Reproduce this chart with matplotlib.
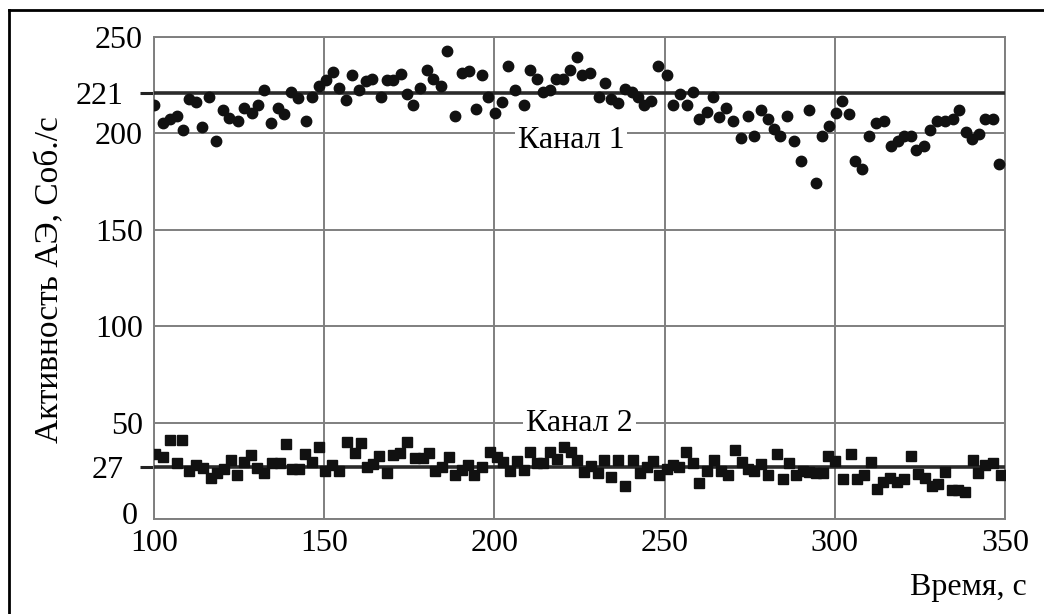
import matplotlib
matplotlib.use("Agg")
import matplotlib.pyplot as plt
from matplotlib.lines import Line2D
from matplotlib.transforms import ScaledTranslation

# Данные: время (с) и активность АЭ (Соб./с)
t1 = [100, 102.5, 104.7, 106.7, 108.4, 110.4, 112.3, 114.2, 116.2, 118.2,
      120.2, 122.1, 124.6, 126.5, 128.7, 130.6, 132.4, 134.4, 136.3, 138.3,
      140.2, 142.2, 144.6, 146.5, 148.5, 150.4, 152.5, 154.4, 156.3, 158.3,
      160.2, 162.2, 164.1, 166.6, 168.4, 170.3, 172.5, 174.2, 176.2, 178.1,
      180.1, 182.1, 184.2, 186, 188.4, 190.4, 192.5, 194.5, 196.3, 198.2,
      200.2, 202.1, 204.1, 206.1, 208.7, 210.5, 212.4, 214.4, 216.3, 218.1,
      220.2, 222.2, 224.2, 225.8, 228.1, 230.7, 232.5, 234.3, 236.4, 238.4,
      240.3, 242.3, 244.0, 246, 248, 250.6, 252.6, 254.5, 256.5, 258.4,
      260.2, 262.4, 264.3, 266.0, 268, 270, 272.4, 274.6, 276.3, 278.3,
      280.3, 282.1, 283.9, 286, 288, 290, 292.5, 294.4, 296.3, 298.3,
      300.3, 302.2, 304.2, 305.9, 308.1, 310, 312, 314.5, 316.4, 318.6,
      320.4, 322.3, 324, 326.3, 328, 330.1, 332.4, 334.6, 336.6, 338.5,
      340.4, 342.5, 344.1, 346.4, 348.2]
kanal1 = [214.6, 205.3, 207.7, 208.8, 201.9, 217.7, 216.5, 203.1, 219.1, 195.9,
          212, 208.2, 206.5, 213.4, 210.8, 214.8, 222.5, 205.3, 213.4, 210,
          221.5, 218.6, 206.5, 218.9, 224.6, 227.7, 231.8, 223.7, 217.4, 230.3,
          222.5, 227.2, 228.4, 218.9, 227.7, 227.7, 230.6, 220.6, 214.6, 223.7,
          232.8, 228, 224.4, 242.6, 208.8, 231.4, 232.3, 212.9, 230.3, 219.1,
          210.8, 216.3, 234.9, 222.5, 214.6, 232.8, 228, 221.5, 222.5, 228,
          228, 232.8, 239.5, 230.1, 231.4, 219.1, 225.9, 217.7, 215.6, 222.8,
          221.5, 219.1, 214.6, 216.9, 235.2, 230.1, 214.6, 220.3, 214.6, 221.5,
          207.4, 211.2, 219.1, 208.5, 213.4, 206.5, 197.4, 208.8, 198.5, 212.2,
          207.7, 202.2, 198.5, 208.8, 196.2, 185.9, 212.2, 174.4, 198.5, 204,
          210.8, 216.9, 210, 185.9, 181.6, 198.5, 205.3, 206.5, 193.7, 196.2,
          198.8, 198.5, 191.6, 193.7, 201.9, 206.5, 206.5, 207.4, 212.2, 200.9,
          197.1, 199.6, 207.4, 207.4, 184.3]

t2 = [100.3, 102.5, 104.7, 106.7, 108.1, 110.4, 112.3, 114.5, 116.7, 118.6,
      120.6, 122.5, 124.5, 126.4, 128.4, 130.3, 132.3, 134.6, 137, 138.7,
      140.4, 142.7, 144.4, 146.5, 148.5, 150.2, 152.2, 154.4, 156.8, 159,
      160.7, 162.5, 164.4, 166.2, 168.4, 170.3, 172.3, 174.2, 176.7, 178.9,
      180.9, 182.5, 184.5, 186.8, 188.4, 190.4, 192.3, 194.1, 196.3, 198.7,
      200.7, 202.6, 204.6, 206.6, 208.7, 210.5, 212.4, 214.4, 216.3, 218.5,
      220.4, 222.4, 224.4, 226.3, 228.3, 230.5, 232.3, 234.2, 236.4, 238.4,
      240.8, 242.8, 244.7, 246.7, 248.4, 250.6, 252.6, 254.3, 256.3, 258.3,
      260.2, 262.4, 264.5, 266.6, 268.7, 270.7, 272.6, 274.4, 276.3, 278.3,
      280.4, 282.9, 284.9, 286.6, 288.6, 290.6, 292.5, 294.5, 296.4, 298.1,
      300.1, 302.3, 304.8, 306.6, 308.6, 310.5, 312.5, 314.2, 316.2, 318.2,
      320.3, 322.3, 324.5, 326.5, 328.5, 330.4, 332.4, 334.3, 336.3, 338.2,
      340.5, 342.2, 344.1, 346.6, 348.8]
kanal2 = [33.5, 32.1, 41.1, 29, 41.1, 24.9, 28.2, 26.5, 21.5, 23.6,
          26.1, 30.8, 22.7, 29.5, 33, 26.5, 23.9, 29, 29, 39,
          26.1, 26.1, 33.5, 29.5, 37.3, 24.9, 28.2, 24.9, 39.8, 34.2,
          39.3, 27, 28.4, 32.5, 23.9, 33, 34.2, 39.8, 31.8, 31.8,
          34.2, 24.9, 27, 32.1, 22.7, 25.6, 27.8, 22.7, 27, 34.7,
          32.1, 29.5, 24.9, 30.1, 25.3, 34.7, 29, 29, 34.7, 31.3,
          37.6, 34.7, 30.8, 24.4, 27.3, 23.9, 30.8, 21.8, 30.8, 17,
          30.8, 23.6, 27, 30.1, 22.7, 26.1, 28.2, 27, 34.7, 29,
          18.7, 24.9, 30.8, 24.9, 22.7, 35.6, 29.5, 26.1, 24.9, 28.4,
          22.7, 33.5, 20.5, 29, 22.7, 24.9, 24.4, 23.9, 23.9, 32.5,
          30.1, 20.5, 33.5, 20.5, 22.7, 29.5, 15.8, 19.2, 21.5, 19.2,
          20.5, 32.5, 23.2, 21.5, 17, 18.4, 24.4, 15.3, 14.9, 14.1,
          30.8, 23.9, 27.8, 29, 22.7]

srednee = [221, 27]          # средние уровни каналов
yticks = [0, 50, 100, 150, 200, 250]
xticks = [100, 150, 200, 250, 300, 350]

plt.rcParams['font.family'] = ['Liberation Serif', 'DejaVu Serif']
fs = 23

fig = plt.figure(figsize=(10.44, 6.14), dpi=100)
ax = fig.add_axes([154 / 1044, 1 - 519 / 614, (1005 - 154) / 1044, (519 - 37) / 614])

gris = '#7f7f7f'
ax.set_xlim(100, 350)
ax.set_ylim(0, 250)
ax.set_xticks(xticks)
ax.set_yticks(yticks)
ax.set_yticks(srednee, minor=True)
ax.set_yticklabels([str(v) for v in srednee], minor=True)
ax.grid(True, which='major', color=gris, linewidth=1.4)
for s in ax.spines.values():
    s.set_color(gris)
    s.set_linewidth(1.4)
ax.tick_params(which='major', length=0, labelsize=fs, pad=8)
ax.tick_params(axis='x', which='major', pad=7)
ax.tick_params(which='minor', axis='y', length=10, width=2.2, color='#222222',
               labelsize=fs, pad=12)

# подпись "0" чуть левее и выше, чтобы не налезала на "100"
lbl0 = ax.get_yticklabels()[0]
lbl0.set_transform(lbl0.get_transform() + ScaledTranslation(-4 / 72, 4 / 72, fig.dpi_scale_trans))

for v in srednee:
    ax.axhline(v, color='#2b2b2b', linewidth=2.6, zorder=3)

ax.plot(t1, kanal1, 'o', color='#111111', markersize=7.5, zorder=4)
ax.plot(t2, kanal2, 's', color='#111111', markersize=7.0, zorder=4)

ax.text(222.5, 196.5, 'Канал 1', fontsize=fs, ha='center', va='center', zorder=5,
        bbox=dict(facecolor='white', edgecolor='none', pad=2))
ax.text(225, 49.5, 'Канал 2', fontsize=fs, ha='center', va='center', zorder=5,
        bbox=dict(facecolor='white', edgecolor='none', pad=2))

fig.text(50 / 1044, 1 - 280 / 614, 'Активность АЭ, Соб./с', fontsize=fs + 1,
         rotation=90, ha='center', va='center')
fig.text(1027 / 1044, 1 - 588 / 614, 'Время, с', fontsize=fs, ha='right', va='center')

# рамка (верх и левая сторона)
fig.add_artist(Line2D([9 / 1044, 1], [1 - 10 / 614, 1 - 10 / 614], color='black', linewidth=2))
fig.add_artist(Line2D([9 / 1044, 9 / 1044], [0, 1 - 10 / 614], color='black', linewidth=2))

fig.savefig('out.png', dpi=100)
